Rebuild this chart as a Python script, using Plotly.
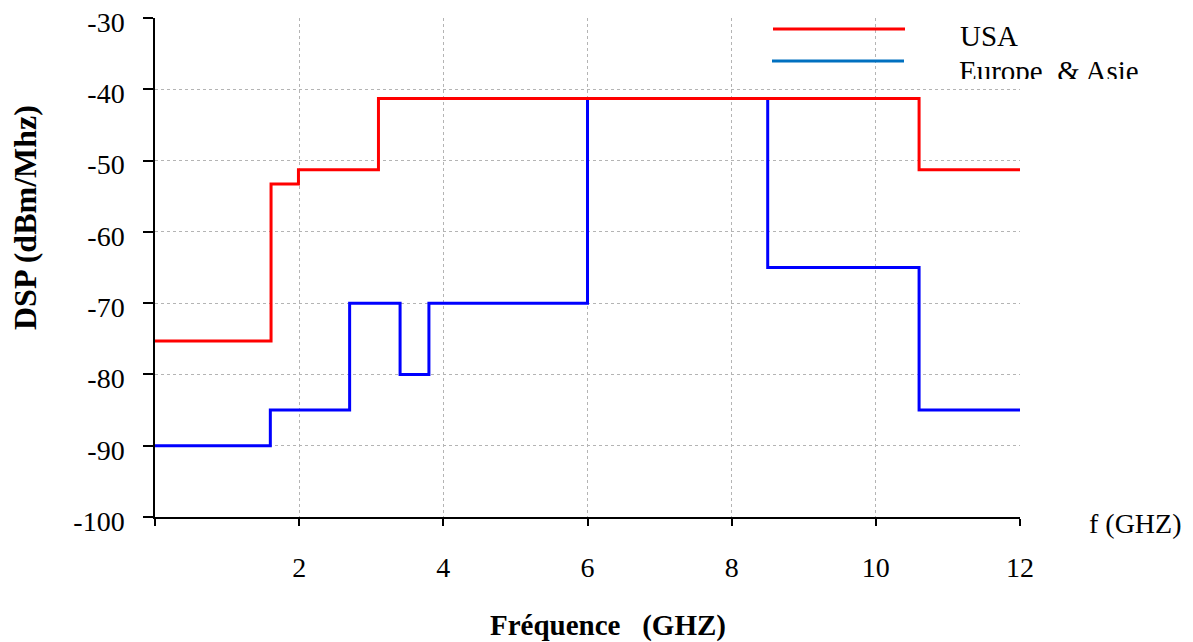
import plotly.graph_objects as go

# Data: spectral mask breakpoints (GHz) and levels (dBm/MHz)
usa_freq = [0, 1.61, 1.99, 3.1, 10.6, 12]
usa_dsp = [-75.3, -53.3, -51.3, -41.3, -51.3, -51.3]

eu_freq = [0, 1.6, 2.7, 3.4, 3.8, 6, 8.5, 10.6, 12]
eu_dsp = [-90, -85, -70, -80, -70, -41.3, -65, -85, -85]

x_ticks = [0, 2, 4, 6, 8, 10, 12]
x_ticktext = ["", "2", "4", "6", "8", "10", "12"]
y_ticks = [-100, -90, -80, -70, -60, -50, -40, -30]
y_ticktext = ["-100", "-90", "-80", "-70", "-60", "-50", "-40", "-30"]

series_names = ["USA", "Europe  & Asie"]

FONT = "Liberation Serif, Times New Roman, serif"

fig = go.Figure()
fig.add_trace(go.Scatter(x=eu_freq, y=eu_dsp, mode="lines", line_shape="hv",
                         line=dict(color="#0000FF", width=3), name=series_names[1],
                         showlegend=False))
fig.add_trace(go.Scatter(x=usa_freq, y=usa_dsp, mode="lines", line_shape="hv",
                         line=dict(color="#FF0000", width=3), name=series_names[0],
                         showlegend=False))

W, H = 1193, 642
L, R, T, B = 155, 173, 18, 125
pw, ph = W - L - R, H - T - B

def px(xp):
    return (xp - L) / pw

def py(yp):
    return (H - B - yp) / ph

# Legend (drawn manually)
fig.add_shape(type="line", xref="paper", yref="paper", x0=px(773), x1=px(905),
              y0=py(29), y1=py(29), line=dict(color="#FF0000", width=3))
fig.add_shape(type="line", xref="paper", yref="paper", x0=px(772), x1=px(904),
              y0=py(61), y1=py(61), line=dict(color="#0070C0", width=3))

def add_text(text, x, y, size, xanchor="left", yanchor="middle", **kw):
    fig.add_annotation(xref="paper", yref="paper", showarrow=False, text=text,
                       x=px(x), y=py(y), xanchor=xanchor, yanchor=yanchor,
                       font=dict(family=FONT, size=size, color="black"), **kw)

add_text(series_names[0], 958, 36, 29)
# second legend entry is clipped at the bottom of the legend box
add_text(series_names[1], 958, 54, 29, yanchor="top", height=24, valign="top", borderpad=0)
add_text("f (GHZ)", 1087, 523, 28)
add_text("<b>Fréquence   (GHZ)</b>", 608, 626, 29, xanchor="center")
add_text("<b>DSP (dBm/Mhz)</b>", 25, 218, 32, xanchor="center", textangle=-90)

fig.update_layout(
    width=W, height=H,
    margin=dict(l=L, r=R, t=T, b=B, pad=0),
    paper_bgcolor="white", plot_bgcolor="white",
    font=dict(family=FONT, size=28, color="black"),
    showlegend=False,
)
fig.update_xaxes(range=[0, 12], tickvals=x_ticks, ticktext=x_ticktext,
                 showline=True, linecolor="black", linewidth=1.5,
                 ticks="outside", ticklen=7, tickcolor="black", tickwidth=1.5,
                 showgrid=True, gridcolor="#b4b4b4", griddash="dot", gridwidth=1,
                 zeroline=False, ticklabelstandoff=18, automargin=False,
                 tickfont=dict(size=28))
fig.update_yaxes(range=[-100, -29.999], tickvals=y_ticks, ticktext=y_ticktext,
                 showline=True, linecolor="black", linewidth=1.5,
                 ticks="outside", ticklen=10, tickcolor="black", tickwidth=1.5,
                 showgrid=True, gridcolor="#b4b4b4", griddash="dot", gridwidth=1,
                 zeroline=False, ticklabelstandoff=13, ticklabelshift=4,
                 ticklabeloverflow="allow",
                 automargin=False, tickfont=dict(size=28))

fig.write_html("out.html")
